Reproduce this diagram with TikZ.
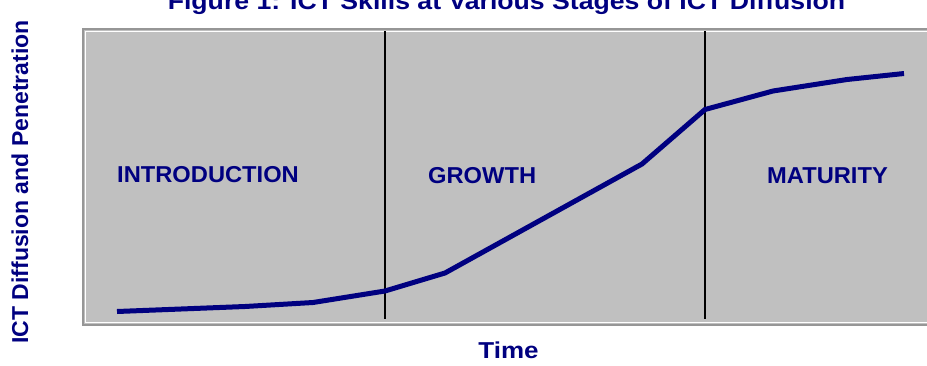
\documentclass[tikz,border=0pt]{standalone}
\usepackage{fontspec}
\setmainfont{Liberation Sans}
\definecolor{navyblue}{RGB}{0,0,128}
\definecolor{panel}{RGB}{192,192,192}
\definecolor{framegray}{RGB}{150,150,150}
\begin{document}
\begin{tikzpicture}[x=1pt,y=-1pt,
  stagelabel/.style={inner sep=0pt,anchor=base west,text=navyblue,font=\fontsize{23}{27}\selectfont\bfseries,xscale=1.03},
  divider/.style={draw=black,line width=1.4pt},
  curveline/.style={draw=navyblue,line width=5pt}]
\useasboundingbox (0,0) rectangle (927,365);
\begin{scope}
\clip (0,0) rectangle (927,365);
% panel
\fill[panel] (82,28) rectangle (940,326);
\draw[framegray,line width=2pt] (83,29) rectangle (940,325);
\draw[white,line width=1.4pt] (85.5,31.5) rectangle (940,322.5);
\end{scope}
% dividers
\coordinate (d1t) at (385,31);
\coordinate (d1b) at (385,319);
\coordinate (d2t) at (705,31);
\coordinate (d2b) at (705,319);
\draw[divider] (d1t) -- (d1b);
\draw[divider] (d2t) -- (d2b);
% curve
\coordinate (p0) at (117,311.5);
\coordinate (p1) at (245,306.5);
\coordinate (p2) at (313,302.5);
\coordinate (p3) at (385,291);
\coordinate (p4) at (445,273);
\coordinate (p5) at (642,164);
\coordinate (p6) at (705,109.5);
\coordinate (p7) at (773,91);
\coordinate (p8) at (847,79.5);
\coordinate (p9) at (904,73.5);
\draw[curveline] (p0) -- (p1) -- (p2) -- (p3) -- (p4) -- (p5) -- (p6) -- (p7) -- (p8) -- (p9);
% stage labels
\node[stagelabel] (intro) at (117,182) {INTRODUCTION};
\node[stagelabel] (growth) at (428,183) {GROWTH};
\node[stagelabel] (mat) at (767,183) {MATURITY};
% axis labels
\node[inner sep=0pt,anchor=base,text=navyblue,font=\fontsize{23}{27}\selectfont\bfseries,xscale=1.13] (time) at (508.5,358) {Time};
\node[inner sep=0pt,anchor=base,text=navyblue,font=\fontsize{23}{27}\selectfont\bfseries,rotate=90] (ylab) at (28,182) {ICT Diffusion and Penetration};
% title
\node[inner sep=0pt,anchor=base,text=navyblue,font=\fontsize{24}{28}\selectfont\bfseries,xscale=1.11] (title) at (506.5,9) {Figure 1: ICT Skills at Various Stages of ICT Diffusion};
\end{tikzpicture}
\end{document}
